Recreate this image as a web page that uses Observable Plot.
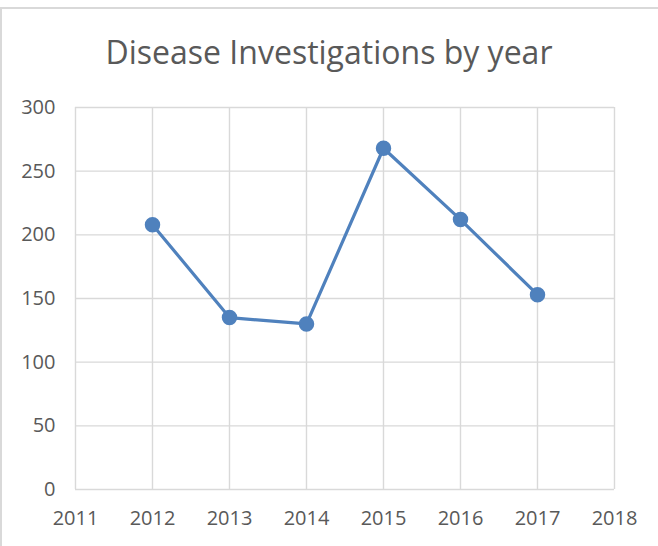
<!DOCTYPE html>
<html>
<head>
<meta charset="utf-8">
<script src="https://cdn.jsdelivr.net/npm/d3@7"></script>
<script src="https://cdn.jsdelivr.net/npm/@observablehq/plot@0.6"></script>
<style>
  html, body { margin: 0; padding: 0; background: #ffffff; }
  #wrap { position: relative; width: 658px; height: 546px; overflow: hidden; background: #fff; }
  #frame { position: absolute; left: 0; top: 7px; width: 700px; height: 600px; border-top: 2px solid #d9d9d9; border-left: 2px solid #d9d9d9; box-sizing: border-box; }
  #title { position: absolute; left: 0; width: 658px; top: 30px; text-align: center; font-family: "Open Sans", sans-serif; font-size: 32px; color: #595959; font-weight: 400; white-space: nowrap; }
  #chart { position: absolute; left: 0; top: 0; }
  #chart svg text { font-family: "Open Sans", sans-serif; }
</style>
</head>
<body>
<div id="wrap">
  <div id="frame"></div>
  <div id="chart"></div>
  <div id="title">Disease Investigations by year</div>
</div>
<script>
const years = [2012, 2013, 2014, 2015, 2016, 2017];
const investigations = [208, 135, 130, 268, 212, 153];
const xTicks = [2011, 2012, 2013, 2014, 2015, 2016, 2017, 2018];
const yTicks = [0, 50, 100, 150, 200, 250, 300];

const data = years.map((y, i) => ({year: y, value: investigations[i]}));

const chart = Plot.plot({
  width: 658,
  height: 546,
  marginLeft: 75,
  marginRight: 44,
  marginTop: 107,
  marginBottom: 57,
  style: {background: "transparent", fontFamily: "Open Sans, sans-serif", fontSize: "20px", color: "#595959"},
  x: {type: "linear", domain: [2011, 2018], ticks: xTicks, tickFormat: "d", label: null},
  y: {domain: [0, 300], ticks: yTicks, label: null},
  marks: [
    Plot.gridX(xTicks, {stroke: "#d9d9d9", strokeOpacity: 1, strokeWidth: 1.4}),
    Plot.gridY(yTicks, {stroke: "#d9d9d9", strokeOpacity: 1, strokeWidth: 1.4}),
    Plot.axisX(xTicks, {tickSize: 0, tickPadding: 21, tickFormat: "d", fill: "#595959", fontSize: 20, label: null}),
    Plot.axisY(yTicks, {tickSize: 0, tickPadding: 20, fill: "#595959", fontSize: 20, label: null}),
    Plot.line(data, {x: "year", y: "value", stroke: "#4f81bd", strokeWidth: 3.2}),
    Plot.dot(data, {x: "year", y: "value", r: 7, fill: "#4f81bd", stroke: "#4f81bd"})
  ]
});
document.getElementById("chart").appendChild(chart);
</script>
</body>
</html>
